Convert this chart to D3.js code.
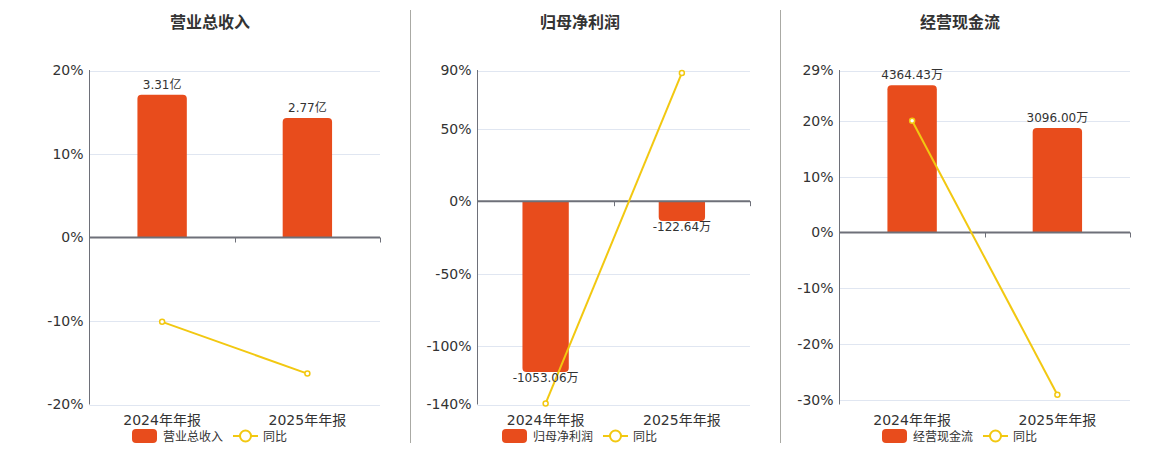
<!DOCTYPE html>
<html>
<head>
<meta charset="utf-8">
<script src="https://cdn.jsdelivr.net/npm/d3@7"></script>
<style>
  body { margin: 0; background: #fff; }
  svg { display: block; font-family: "DejaVu Sans", "Noto Sans CJK SC", sans-serif; }
</style>
</head>
<body>
<svg id="chart" width="1160" height="450"></svg>
<script>
// categories shared by all three panels
var periods = ["2024年年报", "2025年年报"];

// 营业总收入 (亿) and its yoy (%)
var revenue = [3.31, 2.77];
var revenueLabels = ["3.31亿", "2.77亿"];
var revenueYoy = [-10.1, -16.3];

// 归母净利润 (万) and yoy
var profit = [-1053.06, -122.64];
var profitLabels = ["-1053.06万", "-122.64万"];
var profitYoy = [-139.3, 88.35];

// 经营现金流 (万) and yoy
var cash = [4364.43, 3096.00];
var cashLabels = ["4364.43万", "3096.00万"];
var cashYoy = [20.0, -29.06];

var revenueTicks = [20, 10, 0, -10, -20];
var profitTicks = [90, 50, 0, -50, -100, -140];
var cashTicks = [29, 20, 10, 0, -10, -20, -30];

var barColor = "#e84c1c",
    lineColor = "#f2c811",
    axisColor = "#6e7079",
    gridColor = "#e0e6f1",
    textColor = "#333";

var panels = [
    {title: "营业总收入", center: 210, left: 89.5, right: 380, name: "营业总收入",
     bars: revenue, labels: revenueLabels, yoy: revenueYoy, ticks: revenueTicks,
     lineDomain: [-20, 20], barDomain: [-3.874, 3.874]},
    {title: "归母净利润", center: 580, left: 477.5, right: 750, name: "归母净利润",
     bars: profit, labels: profitLabels, yoy: profitYoy, ticks: profitTicks,
     lineDomain: [-140, 90], barDomain: [-1254, 806]},
    {title: "经营现金流", center: 960, left: 839.5, right: 1130, name: "经营现金流",
     bars: cash, labels: cashLabels, yoy: cashYoy, ticks: cashTicks,
     lineDomain: [-30.8, 29], barDomain: [-5104, 4805]}
];

var plotTop = 70.5, plotBottom = 404.5;
var svg = d3.select("#chart");

// dividers between panels
[410.5, 780.5].forEach(function(x){
    svg.append("line")
        .attr("x1", x).attr("x2", x)
        .attr("y1", 10).attr("y2", 443)
        .attr("stroke", "#aaaaa4")
        .attr("stroke-width", 1);
});

panels.forEach(function(p){
    var g = svg.append("g");

    var x = d3.scaleBand().domain(periods).range([p.left, p.right]).paddingInner(0).paddingOuter(0);
    var y = d3.scaleLinear().domain(p.lineDomain).range([plotBottom, plotTop]);
    var yb = d3.scaleLinear().domain(p.barDomain).range([plotBottom, plotTop]);

    // title
    g.append("text")
        .attr("x", p.center).attr("y", 28)
        .attr("text-anchor", "middle")
        .attr("font-size", 16).attr("font-weight", "bold")
        .attr("fill", textColor)
        .text(p.title);

    // grid lines
    g.selectAll(".grid").data(p.ticks.filter(function(t){ return t !== 0; }))
        .enter().append("line")
        .attr("x1", p.left).attr("x2", p.right)
        .attr("y1", function(d){ return Math.round(y(d)) + 0.5; })
        .attr("y2", function(d){ return Math.round(y(d)) + 0.5; })
        .attr("stroke", gridColor);

    // y axis
    var yAxis = d3.axisLeft(y).tickValues(p.ticks).tickSize(0).tickPadding(6)
        .tickFormat(function(d){ return d + "%"; });
    var ya = g.append("g").attr("transform", "translate(" + p.left + ",0)").call(yAxis);
    ya.select(".domain").attr("stroke", axisColor)
        .attr("d", "M0," + (plotTop - 0.5) + "V" + plotBottom);
    ya.selectAll("text").attr("font-size", 14).attr("fill", textColor)
        .attr("font-family", "DejaVu Sans, Noto Sans CJK SC");

    // bars
    var bw = x.bandwidth() * 0.34;
    g.selectAll(".bar").data(p.bars).enter().append("path")
        .attr("fill", barColor)
        .attr("d", function(d, i){
            var cx = x(periods[i]) + x.bandwidth() / 2;
            var x0 = cx - bw / 2, x1 = cx + bw / 2;
            var y0 = yb(0), y1 = yb(d);
            var r = Math.min(4, Math.abs(y1 - y0));
            if (d >= 0) {
                return "M" + x0 + "," + y0 + "V" + (y1 + r) +
                    "Q" + x0 + "," + y1 + " " + (x0 + r) + "," + y1 +
                    "H" + (x1 - r) + "Q" + x1 + "," + y1 + " " + x1 + "," + (y1 + r) +
                    "V" + y0 + "Z";
            }
            return "M" + x0 + "," + y0 + "V" + (y1 - r) +
                "Q" + x0 + "," + y1 + " " + (x0 + r) + "," + y1 +
                "H" + (x1 - r) + "Q" + x1 + "," + y1 + " " + x1 + "," + (y1 - r) +
                "V" + y0 + "Z";
        });

    // x axis at zero
    var xAxis = d3.axisBottom(x).tickSize(0).tickFormat("");
    var xa = g.append("g").attr("transform", "translate(0," + y(0) + ")").call(xAxis);
    xa.select(".domain").attr("stroke", axisColor).attr("stroke-width", 2)
        .attr("d", "M" + p.left + ",0H" + p.right);
    // ticks at band boundaries
    periods.forEach(function(c){
        var bx = Math.round(x(c) + x.bandwidth()) + 0.5;
        g.append("line")
            .attr("x1", bx).attr("x2", bx)
            .attr("y1", y(0)).attr("y2", y(0) + 5)
            .attr("stroke", axisColor);
    });

    // category labels under plot
    g.selectAll(".cat").data(periods).enter().append("text")
        .attr("x", function(d){ return x(d) + x.bandwidth() / 2; })
        .attr("y", 425)
        .attr("text-anchor", "middle")
        .attr("font-size", 14).attr("fill", textColor)
        .text(function(d){ return d; });

    // yoy line
    var line = d3.line()
        .x(function(d, i){ return x(periods[i]) + x.bandwidth() / 2; })
        .y(function(d){ return y(d); });
    g.append("path").datum(p.yoy)
        .attr("d", line)
        .attr("fill", "none")
        .attr("stroke", lineColor)
        .attr("stroke-width", 2);
    g.selectAll(".pt").data(p.yoy).enter().append("circle")
        .attr("cx", function(d, i){ return x(periods[i]) + x.bandwidth() / 2; })
        .attr("cy", function(d){ return y(d); })
        .attr("r", 2.5)
        .attr("fill", "#fff")
        .attr("stroke", lineColor)
        .attr("stroke-width", 1.5);

    // bar value labels
    g.selectAll(".lbl").data(p.bars).enter().append("text")
        .attr("x", function(d, i){ return x(periods[i]) + x.bandwidth() / 2; })
        .attr("y", function(d){ return d >= 0 ? yb(d) - 6 : yb(d) + 10; })
        .attr("text-anchor", "middle")
        .attr("font-size", 12).attr("fill", textColor)
        .text(function(d, i){ return p.labels[i]; });

    // legend
    var lg = g.append("g").attr("transform", "translate(" + (p.center - 78) + ",436)");
    lg.append("rect")
        .attr("x", 0).attr("y", -7).attr("width", 25).attr("height", 14)
        .attr("rx", 4).attr("fill", barColor);
    lg.append("text")
        .attr("x", 31).attr("y", 4.5)
        .attr("font-size", 12).attr("fill", textColor)
        .attr("font-family", "Noto Sans CJK SC")
        .text(p.name);
    lg.append("line")
        .attr("x1", 101).attr("x2", 126).attr("y1", 0).attr("y2", 0)
        .attr("stroke", lineColor).attr("stroke-width", 2);
    lg.append("circle")
        .attr("cx", 113.5).attr("cy", 0).attr("r", 5.5)
        .attr("fill", "#fff").attr("stroke", lineColor).attr("stroke-width", 2);
    lg.append("text")
        .attr("x", 131).attr("y", 4.5)
        .attr("font-size", 12).attr("fill", textColor)
        .attr("font-family", "Noto Sans CJK SC")
        .text("同比");
});
</script>
</body>
</html>
